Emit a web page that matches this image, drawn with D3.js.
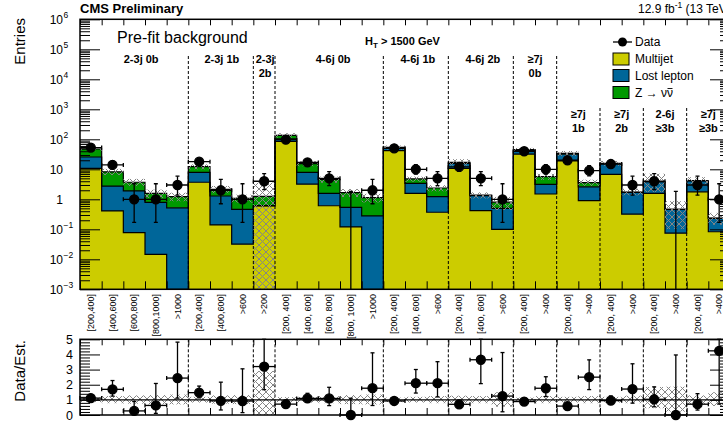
<!DOCTYPE html>
<html>
<head>
<meta charset="utf-8">
<script src="https://cdn.jsdelivr.net/npm/d3@7"></script>
<style>
  body { margin: 0; background: #fff; }
  svg { font-family: "Liberation Sans", Arial, sans-serif; }
</style>
</head>
<body>
<div class="viz"></div>
<script>
// bins: 30 search regions, grouped by category
var binLabels = [
  "[200,400]", "[400,600]", "[600,800]", "[800,1000]", ">1000",
  "[200,400]", "[400,600]", ">600",
  ">200",
  "[200, 400]", "[400, 600]", "[600, 800]", "[800, 1000]", ">1000",
  "[200, 400]", "[400, 600]", ">600",
  "[200, 400]", "[400, 600]", ">600",
  "[200, 400]", ">400",
  "[200, 400]", ">400",
  "[200, 400]", ">400",
  "[200, 400]", ">400",
  "[200, 400]", ">400"
];
var categories = [["2-3j 0b"], ["2-3j 1b"], ["2-3j", "2b"], ["4-6j 0b"], ["4-6j 1b"], ["4-6j 2b"],
  ["\u22657j", "0b"], ["\u22657j", "1b"], ["\u22657j", "2b"], ["2-6j", "\u22653b"], ["\u22657j", "\u22653b"]];
var catBins = [5, 3, 1, 5, 3, 3, 2, 2, 2, 2, 2];

var multijet = [10.7, 0.41, 0.078, 0.0147, 0, 3.7, 0.14, 0.032, 0.6, 85, 3.2, 0.61, 0.12, 0, 42,
  1.58, 0.37, 10.7, 0.42, 0.1, 32, 1.5, 19, 0.9, 6.8, 0.32, 1.58, 0.074, 1.78, 0.083];
var lostLepton = [15, 2.35, 1.82, 0.78, 0.52, 4.2, 1.15, 0.43, 0.02, 18, 4.7, 0.97, 0.42, 0.28, 8,
  1.82, 0.86, 5.1, 0.9, 0.4, 10, 1.66, 13, 1.7, 8.5, 1.38, 2.27, 0.39, 2.3, 0.15];
var zinv = [21.8, 5.5, 1.8, 0.79, 0.71, 4.3, 0.85, 0.62, 0.63, 32, 7.6, 3.0, 1.12, 0.85, 4,
  1.36, 1.15, 1.2, 0.05, 0.3, 3, 2.5, 2, 1.0, 0.5, 0.05, 0, 0, 0.12, 0.003];
// relative background uncertainty (down, up)
var uncLo = [0.15, 0.22, 0.25, 0.3, 0.3, 0.18, 0.25, 0.28, 1.0, 0.15, 0.18, 0.22, 0.28, 0.3, 0.15,
  0.18, 0.22, 0.22, 0.22, 0.45, 0.15, 0.22, 0.18, 0.22, 0.18, 0.22, 0.55, 0.78, 0.3, 0.4];
var uncHi = [0.15, 0.25, 0.3, 0.32, 0.35, 0.2, 0.3, 0.32, 1.9, 0.18, 0.2, 0.25, 0.32, 0.35, 0.15,
  0.2, 0.25, 0.28, 0.25, 0.5, 0.15, 0.25, 0.2, 0.25, 0.2, 0.28, 0.85, 0.87, 0.3, 0.5];

var data = [53, 14, 1, 1, 3, 18, 2, 1, 4, 97, 17, 5, 0, 2, 50, 10, 5, 12, 5, 1, 40, 10, 20, 9, 15, 3, 4, 0, 3, 1];
var dataErrLo = [7.3, 3.7, 0.83, 0.83, 1.63, 4.2, 1.29, 0.83, 1.91, 9.8, 4.1, 2.16, 0, 1.29, 7.1,
  3.1, 2.16, 3.4, 2.16, 0.83, 6.3, 3.1, 4.4, 2.96, 3.8, 1.63, 1.91, 0, 1.63, 0.83];
var dataErrHi = [8.3, 4.8, 2.3, 2.3, 2.92, 5.3, 2.64, 2.3, 3.16, 10.9, 5.2, 3.38, 1.84, 2.64, 8.1,
  4.3, 3.38, 4.6, 3.38, 2.3, 7.4, 4.3, 5.5, 4.11, 4.95, 2.92, 3.16, 1.84, 2.92, 2.3];

var W = 723, H = 425;
var nb = data.length;
var mainTop = 19.3, mainBot = 289.3, ratTop = 339.3, ratBot = 415;
var left = 80, right = 730;

var svg = d3.select(".viz").append("svg").attr("width", W).attr("height", H);
var x = d3.scaleLinear().domain([0, nb]).range([left, right]);
var y = d3.scaleLog().domain([1e-3, 1e6]).range([mainBot, mainTop]).clamp(true);
var yr = d3.scaleLinear().domain([0, 5]).range([ratBot, ratTop]).clamp(true);
function yv(v) { return y(Math.max(v, 1e-4)); }

var defs = svg.append("defs");
defs.append("clipPath").attr("id", "clipMain").append("rect")
  .attr("x", left).attr("y", mainTop).attr("width", right - left).attr("height", mainBot - mainTop);
defs.append("clipPath").attr("id", "clipRatio").append("rect")
  .attr("x", left).attr("y", ratTop).attr("width", right - left).attr("height", ratBot - ratTop);
var pat = defs.append("pattern").attr("id", "hatch").attr("patternUnits", "userSpaceOnUse")
  .attr("width", 7).attr("height", 7);
pat.append("path").attr("d", "M0,0L7,7M7,0L0,7").attr("stroke", "#858585").attr("stroke-width", 1);

// ---- stacked backgrounds
var layers = [
  { name: "Multijet", vals: multijet, color: "#cccc00" },
  { name: "Lost lepton", vals: lostLepton, color: "#006699" },
  { name: "Z \u2192 \u03bd\u03bd", vals: zinv, color: "#009900" }
];
var total = data.map(function () { return 0; });
layers.forEach(function (l) {
  l.pts = [];
  l.vals.forEach(function (v, i) {
    var lo = total[i], hi = total[i] + v;
    l.pts.push({ x: x(i), lo: lo, hi: hi });
    l.pts.push({ x: x(i + 1), lo: lo, hi: hi });
    total[i] = hi;
  });
});

var main = svg.append("g").attr("clip-path", "url(#clipMain)");
var area = d3.area().x(function (d) { return d.x; })
  .y0(function (d) { return yv(d.lo); }).y1(function (d) { return yv(d.hi); });
var topLine = d3.line().x(function (d) { return d.x; }).y(function (d) { return yv(d.hi); });
layers.forEach(function (l) {
  main.append("path").attr("d", area(l.pts)).attr("fill", l.color);
});
layers.forEach(function (l) {
  main.append("path").attr("d", topLine(l.pts)).attr("fill", "none").attr("stroke", "#000").attr("stroke-width", 1.2);
});

// uncertainty band
total.forEach(function (t, i) {
  var y1 = yv(t * (1 + uncHi[i])), y0 = yv(t * (1 - uncLo[i]));
  main.append("rect").attr("x", x(i)).attr("width", x(i + 1) - x(i))
    .attr("y", y1).attr("height", Math.max(0, y0 - y1)).attr("fill", "url(#hatch)");
});

// ---- data points
function errBar(g, i, yc, yLo, yHi, drawPoint) {
  var xc = x(i + 0.5);
  if (drawPoint) {
    g.append("line").attr("x1", x(i)).attr("x2", x(i + 1)).attr("y1", yc).attr("y2", yc);
    g.append("line").attr("x1", x(i)).attr("x2", x(i)).attr("y1", yc - 2).attr("y2", yc + 2);
    g.append("line").attr("x1", x(i + 1)).attr("x2", x(i + 1)).attr("y1", yc - 2).attr("y2", yc + 2);
  }
  g.append("line").attr("x1", xc).attr("x2", xc).attr("y1", yLo).attr("y2", yHi);
  g.append("line").attr("x1", xc - 2).attr("x2", xc + 2).attr("y1", yHi).attr("y2", yHi);
  if (drawPoint) {
    g.append("line").attr("x1", xc - 2).attr("x2", xc + 2).attr("y1", yLo).attr("y2", yLo);
    g.append("circle").attr("cx", xc).attr("cy", yc).attr("r", 4.5).attr("fill", "#000");
  }
}
var dg = main.append("g").attr("stroke", "#000").attr("stroke-width", 1.3);
data.forEach(function (d, i) {
  if (d > 0) errBar(dg, i, y(d), yv(d - dataErrLo[i]), y(d + dataErrHi[i]), true);
  else errBar(dg, i, mainBot, mainBot, y(dataErrHi[i]), false);
});

// ---- ratio panel
var rat = svg.append("g").attr("clip-path", "url(#clipRatio)");
total.forEach(function (t, i) {
  var y1 = yr(1 + uncHi[i]), y0 = yr(Math.max(0, 1 - uncLo[i]));
  rat.append("rect").attr("x", x(i)).attr("width", x(i + 1) - x(i))
    .attr("y", y1).attr("height", y0 - y1).attr("fill", "url(#hatch)");
});
rat.append("line").attr("x1", left).attr("x2", right).attr("y1", yr(1)).attr("y2", yr(1))
  .attr("stroke", "#000").attr("stroke-width", 1.2);
var rg = svg.append("g").attr("stroke", "#000").attr("stroke-width", 1.3);
data.forEach(function (d, i) {
  var t = total[i];
  errBar(rg, i, yr(d / t), yr((d - dataErrLo[i]) / t), yr((d + dataErrHi[i]) / t), true);
});

// ---- category separators and labels
var edges = [], acc = 0;
catBins.forEach(function (n, j) {
  var start = acc;
  acc += n;
  var row = j >= 7 ? 1 : 0;
  var dx = [7, 1, 1, 4, 2, 2, 0, 0, 0, 0, 0][j];
  var cx = x((start + acc) / 2) + dx;
  var base = row ? 118 : 63;
  categories[j].forEach(function (s, k) {
    svg.append("text").attr("x", cx).attr("y", base + k * 14).attr("text-anchor", "middle")
      .attr("font-size", 11).attr("font-weight", "bold").text(s);
  });
  if (j < catBins.length - 1) edges.push({ b: acc, top: (j >= 7) ? 108 : 56 });
});
edges.forEach(function (e) {
  svg.append("line").attr("x1", x(e.b)).attr("x2", x(e.b)).attr("y1", e.top).attr("y2", mainBot)
    .attr("stroke", "#000").attr("stroke-dasharray", "3,2");
  svg.append("line").attr("x1", x(e.b)).attr("x2", x(e.b)).attr("y1", ratTop).attr("y2", ratBot)
    .attr("stroke", "#000").attr("stroke-dasharray", "3,2");
});

// ---- axes
var major = d3.range(-3, 7).map(function (k) { return Math.pow(10, k); });
var minor = [];
d3.range(-3, 6).forEach(function (k) {
  d3.range(2, 10).forEach(function (m) { minor.push(m * Math.pow(10, k)); });
});
function noDomain(g) { g.select(".domain").remove(); }
svg.append("g").attr("transform", "translate(" + left + ",0)")
  .call(d3.axisRight(y).tickValues(major).tickSize(20).tickFormat("")).call(noDomain);
svg.append("g").attr("transform", "translate(" + left + ",0)")
  .call(d3.axisRight(y).tickValues(minor).tickSize(10).tickFormat("")).call(noDomain);
svg.append("g").attr("transform", "translate(" + right + ",0)")
  .call(d3.axisLeft(y).tickValues(major).tickSize(20).tickFormat("")).call(noDomain);
svg.append("g").attr("transform", "translate(" + right + ",0)")
  .call(d3.axisLeft(y).tickValues(minor).tickSize(10).tickFormat("")).call(noDomain);
svg.append("g").attr("transform", "translate(0," + mainTop + ")")
  .call(d3.axisBottom(x).tickValues(d3.range(0, nb + 1)).tickSize(6).tickFormat("")).call(noDomain);
svg.append("g").attr("transform", "translate(0," + mainBot + ")")
  .call(d3.axisTop(x).tickValues(d3.range(0, nb + 1)).tickSize(8).tickFormat("")).call(noDomain);

var rMajor = d3.range(0, 6);
var rMinor = d3.range(0, 25).map(function (k) { return k * 0.2; }).filter(function (v) { return Math.abs(v - Math.round(v)) > 0.01; });
svg.append("g").attr("transform", "translate(" + left + ",0)")
  .call(d3.axisRight(yr).tickValues(rMajor).tickSize(20).tickFormat("")).call(noDomain);
svg.append("g").attr("transform", "translate(" + left + ",0)")
  .call(d3.axisRight(yr).tickValues(rMinor).tickSize(10).tickFormat("")).call(noDomain);
svg.append("g").attr("transform", "translate(" + right + ",0)")
  .call(d3.axisLeft(yr).tickValues(rMajor).tickSize(20).tickFormat("")).call(noDomain);
svg.append("g").attr("transform", "translate(" + right + ",0)")
  .call(d3.axisLeft(yr).tickValues(rMinor).tickSize(10).tickFormat("")).call(noDomain);
svg.append("g").attr("transform", "translate(0," + ratTop + ")")
  .call(d3.axisBottom(x).tickValues(d3.range(0, nb + 1)).tickSize(6).tickFormat("")).call(noDomain);
svg.append("g").attr("transform", "translate(0," + ratBot + ")")
  .call(d3.axisTop(x).tickValues(d3.range(0, nb + 1)).tickSize(7).tickFormat("")).call(noDomain);

// frames
[[mainTop, mainBot], [ratTop, ratBot]].forEach(function (f) {
  svg.append("rect").attr("x", left).attr("y", f[0]).attr("width", right - left).attr("height", f[1] - f[0])
    .attr("fill", "none").attr("stroke", "#000").attr("stroke-width", 1.5);
});

// y tick labels (log)
major.forEach(function (v) {
  var k = Math.round(Math.log10(v));
  var yy = y(v);
  svg.append("text").attr("x", 63).attr("y", yy).attr("dy", "0.42em").attr("text-anchor", "end")
    .attr("font-size", 12).text(k === 0 ? "1" : "10");
  if (k !== 0 && k !== 1) {
    svg.append("text").attr("x", 63.5).attr("y", yy - 1).attr("font-size", 8.5)
      .text(k < 0 ? "\u2212" + (-k) : String(k));
  }
});
rMajor.forEach(function (v) {
  svg.append("text").attr("x", 73).attr("y", yr(v)).attr("dy", "0.36em").attr("text-anchor", "end")
    .attr("font-size", 12.5).text(v);
});

// x bin labels
binLabels.forEach(function (s, i) {
  svg.append("text").attr("transform", "translate(" + x(i + 0.5) + ",294) rotate(-90)")
    .attr("dy", "0.35em").attr("text-anchor", "end").attr("font-size", 9).text(s);
});

// axis titles
svg.append("text").attr("transform", "translate(25,18) rotate(-90)").attr("text-anchor", "end")
  .attr("font-size", 15).text("Entries");
svg.append("text").attr("transform", "translate(25,340) rotate(-90)").attr("text-anchor", "end")
  .attr("font-size", 15).text("Data/Est.");

// header texts
svg.append("text").attr("x", 80).attr("y", 13).attr("font-size", 13).attr("font-weight", "bold").text("CMS Preliminary");
var lumi = svg.append("text").attr("x", 638).attr("y", 13).attr("font-size", 12);
lumi.append("tspan").text("12.9 fb");
lumi.append("tspan").attr("font-size", 8.5).attr("dy", -5).text("-1");
lumi.append("tspan").attr("dy", 5).text(" (13 TeV)");
svg.append("text").attr("x", 117).attr("y", 43).attr("font-size", 16).text("Pre-fit background");
var ht = svg.append("text").attr("x", 365).attr("y", 45).attr("font-size", 11).attr("font-weight", "bold");
ht.append("tspan").text("H");
ht.append("tspan").attr("font-size", 8).attr("dy", 3).text("T");
ht.append("tspan").attr("dy", -3).text(" > 1500 GeV");

// legend
var lx = 613;
svg.append("line").attr("x1", lx).attr("x2", lx + 19).attr("y1", 42).attr("y2", 42).attr("stroke", "#000").attr("stroke-width", 1.3);
svg.append("circle").attr("cx", lx + 9.5).attr("cy", 42).attr("r", 4.5).attr("fill", "#000");
svg.append("text").attr("x", 635).attr("y", 42).attr("dy", "0.35em").attr("font-size", 12).text("Data");
var legY = [59, 75.5, 92.5];
layers.forEach(function (l, i) {
  svg.append("rect").attr("x", lx).attr("y", legY[i] - 6).attr("width", 16).attr("height", 12)
    .attr("fill", l.color).attr("stroke", "#000").attr("stroke-width", 1);
  var t = svg.append("text").attr("x", 635).attr("y", legY[i]).attr("dy", "0.35em").attr("font-size", 12).text(l.name);
  if (i === 2) {
    var len = t.node().getComputedTextLength();
    svg.append("line").attr("x1", 635 + len - 5.5).attr("x2", 635 + len - 0.5)
      .attr("y1", legY[i] - 4).attr("y2", legY[i] - 4).attr("stroke", "#000").attr("stroke-width", 0.9);
  }
});
</script>
</body>
</html>
